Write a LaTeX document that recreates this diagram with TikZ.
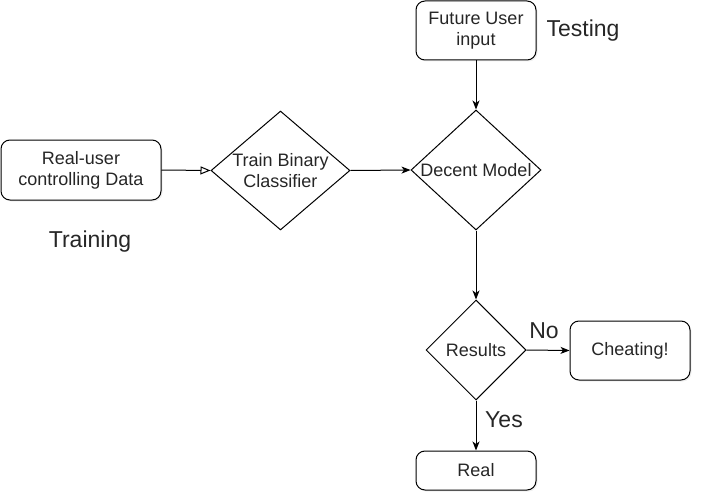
\documentclass[tikz,border=0pt]{standalone}
\usepackage{fontspec}
\setmainfont{Liberation Sans}
\usetikzlibrary{shapes.geometric,arrows.meta,shadows}
\begin{document}
\begin{tikzpicture}[x=1pt,y=-1pt,
  every node/.style={font=\fontsize{18}{21}\selectfont, text=black!85},
  rbox/.style={draw, line width=1pt, rounded corners=9pt, fill=white, inner sep=0pt,
    align=center, drop shadow={shadow xshift=1.5pt, shadow yshift=-1.5pt, opacity=0.12}},
  dia/.style={draw, diamond, line width=1pt, fill=white, inner sep=0pt, aspect=1},
  biglabel/.style={font=\fontsize{23}{26}\selectfont},
  conn/.style={line width=1pt, -{Stealth[length=9pt,width=7pt,inset=2.5pt]}},
  openconn/.style={line width=1pt, -{Triangle[open,length=10pt,width=8pt]}}]
\useasboundingbox (0,0) rectangle (702,503);

\node[rbox, minimum width=160pt, minimum height=60pt] (real) at (81,170) {Real-user\\controlling Data};
\node[dia, minimum width=139pt, minimum height=119pt,
  label={[align=center, font=\fontsize{18}{21}\selectfont]center:Train Binary\\Classifier}] (train) at (280.5,170.5) {};
\node[dia, minimum width=130pt, minimum height=120pt,
  label={center:Decent Model}] (decent) at (476,170) {};
\node[rbox, minimum width=120pt, minimum height=59pt] (future) at (476,30.5) {Future User\\input};
\node[dia, minimum width=100pt, minimum height=100pt,
  label={center:Results}] (results) at (476,350) {};
\node[rbox, minimum width=120pt, minimum height=59pt] (cheat) at (630,350.5) {Cheating!};
\node[rbox, minimum width=120pt, minimum height=39pt] (realout) at (476,470.5) {Real};

\node[biglabel] (training) at (90,242) {Training};
\node[biglabel] (testing) at (583,31) {Testing};
\node[biglabel] (no) at (544,331) {No};
\node[biglabel] (yes) at (504,420) {Yes};

\draw[openconn] (real.east) -- (train.west);
\draw[conn] (train.east) -- (decent.west);
\draw[conn] (future.south) -- (decent.north);
\draw[conn] (decent.south) -- (results.north);
\draw[conn] (results.east) -- (cheat.west);
\draw[conn] (results.south) -- (realout.north);
\end{tikzpicture}
\end{document}
